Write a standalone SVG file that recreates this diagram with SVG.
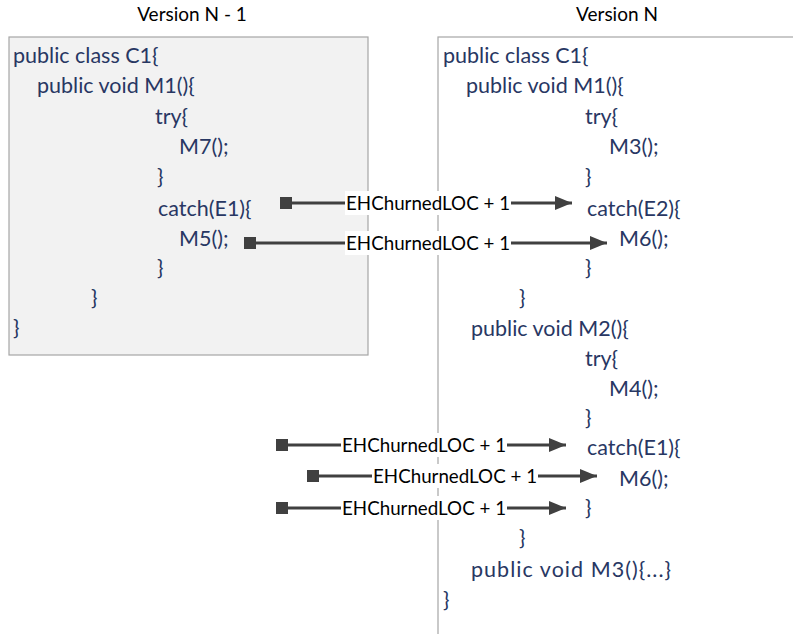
<svg xmlns="http://www.w3.org/2000/svg" width="793" height="634" viewBox="0 0 793 634">
  <style>
    .title { font-family: Lato, "Liberation Sans", sans-serif; font-size: 19px; fill: #000; text-anchor: middle; }
    .code { font-family: Lato, "Liberation Sans", sans-serif; font-size: 21.5px; fill: #283763; }
    .lbl { font-family: Lato, "Liberation Sans", sans-serif; font-size: 19px; fill: #000; }
    .lblbg { fill: #fff; }
    .wire { stroke: #404040; stroke-width: 3; fill: none; }
    .tail { fill: #404040; }
  </style>
  <defs>
    <marker id="head" viewBox="0 0 17 14" refX="17" refY="7" markerWidth="17" markerHeight="14" markerUnits="userSpaceOnUse" orient="auto">
      <path d="M0,0 L17,7 L0,14 Z" fill="#404040"/>
    </marker>
  </defs>

  <rect width="793" height="634" fill="#fff"/>

  <!-- previous version of the class -->
  <g id="version-prev">
    <text class="title" x="192" y="21">Version N - 1</text>
    <rect x="9" y="37" width="359" height="318" fill="#f2f2f2" stroke="#a6a6a6" stroke-width="1.2"/>
    <text class="code" x="13" y="63">public class C1{</text>
    <text class="code" x="37" y="93">public void M1(){</text>
    <text class="code" x="155" y="124">try{</text>
    <text class="code" x="179" y="154">M7();</text>
    <text class="code" x="157" y="184">}</text>
    <text class="code" x="158" y="216">catch(E1){</text>
    <text class="code" x="179" y="246">M5();</text>
    <text class="code" x="157" y="275">}</text>
    <text class="code" x="91" y="305">}</text>
    <text class="code" x="13" y="335">}</text>
  </g>

  <!-- current version of the class -->
  <g id="version-cur">
    <text class="title" x="617" y="21">Version N</text>
    <rect x="438" y="37" width="400" height="640" fill="#fff" stroke="#a6a6a6" stroke-width="1.2"/>
    <text class="code" x="443" y="63">public class C1{</text>
    <text class="code" x="466" y="93">public void M1(){</text>
    <text class="code" x="585" y="124">try{</text>
    <text class="code" x="609" y="154">M3();</text>
    <text class="code" x="585" y="184">}</text>
    <text class="code" x="587" y="216">catch(E2){</text>
    <text class="code" x="619" y="246">M6();</text>
    <text class="code" x="585" y="275">}</text>
    <text class="code" x="519" y="305">}</text>
    <text class="code" x="471" y="336">public void M2(){</text>
    <text class="code" x="585" y="366">try{</text>
    <text class="code" x="609" y="396">M4();</text>
    <text class="code" x="585" y="425">}</text>
    <text class="code" x="587" y="455">catch(E1){</text>
    <text class="code" x="619" y="486">M6();</text>
    <text class="code" x="585" y="515">}</text>
    <text class="code" x="519" y="545">}</text>
    <text class="code" x="471" y="577" textLength="200" lengthAdjust="spacing">public void M3(){...}</text>
    <text class="code" x="443" y="607">}</text>
  </g>

  <!-- churn connectors -->
  <g id="connectors">
    <g id="c1">
      <rect class="tail" x="280" y="197" width="12" height="12"/>
      <path class="wire" d="M292,203 H346"/>
      <rect class="lblbg" x="345" y="191" width="167" height="24"/>
      <text class="lbl" x="346" y="210" textLength="164" lengthAdjust="spacingAndGlyphs">EHChurnedLOC + 1</text>
      <path class="wire" d="M511,203 H572" marker-end="url(#head)"/>
    </g>
    <g id="c2">
      <rect class="tail" x="244" y="237" width="12" height="12"/>
      <path class="wire" d="M256,243 H346"/>
      <rect class="lblbg" x="345" y="231" width="167" height="24"/>
      <text class="lbl" x="346" y="250" textLength="164" lengthAdjust="spacingAndGlyphs">EHChurnedLOC + 1</text>
      <path class="wire" d="M511,243 H607" marker-end="url(#head)"/>
    </g>
    <g id="c3">
      <rect class="tail" x="276" y="439" width="12" height="12"/>
      <path class="wire" d="M288,445 H342"/>
      <rect class="lblbg" x="341" y="433" width="167" height="24"/>
      <text class="lbl" x="342" y="452" textLength="164" lengthAdjust="spacingAndGlyphs">EHChurnedLOC + 1</text>
      <path class="wire" d="M507,445 H566" marker-end="url(#head)"/>
    </g>
    <g id="c4">
      <rect class="tail" x="307" y="470" width="12" height="12"/>
      <path class="wire" d="M319,476 H373"/>
      <rect class="lblbg" x="372" y="464" width="167" height="24"/>
      <text class="lbl" x="373" y="483" textLength="164" lengthAdjust="spacingAndGlyphs">EHChurnedLOC + 1</text>
      <path class="wire" d="M538,476 H597" marker-end="url(#head)"/>
    </g>
    <g id="c5">
      <rect class="tail" x="276" y="502" width="12" height="12"/>
      <path class="wire" d="M288,508 H342"/>
      <rect class="lblbg" x="341" y="496" width="167" height="24"/>
      <text class="lbl" x="342" y="515" textLength="164" lengthAdjust="spacingAndGlyphs">EHChurnedLOC + 1</text>
      <path class="wire" d="M507,508 H566" marker-end="url(#head)"/>
    </g>
  </g>
</svg>
